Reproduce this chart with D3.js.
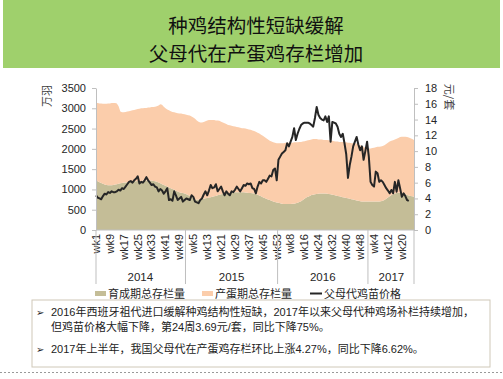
<!DOCTYPE html>
<html><head><meta charset="utf-8">
<script src="https://cdn.jsdelivr.net/npm/d3@7"></script>
<style>body{margin:0;background:#fff} svg{display:block}</style>
</head><body><svg id="c" width="503" height="379"></svg>
<script>
const years = ["2014","2015","2016","2017"];
const weeksPerYear = [52,53,52,27];
const rearing = [
1220,1200,1180,1160,1140,1120,1110,1100,1100,1100,1110,
1120,1130,1140,1150,1160,1170,1170,1180,1180,1190,
1190,1200,1200,1210,1210,1210,1220,1220,1220,1220,
1220,1220,1210,1200,1190,1170,1150,1130,1110,1090,
1070,1050,1030,1010,990,970,950,930,920,910,
900,880,860,840,810,770,750,745,745,750,
760,770,780,790,800,810,820,830,840,855,
870,880,890,900,905,910,915,920,925,930,
930,930,930,930,930,925,920,915,910,905,
900,890,870,850,830,810,790,770,750,740,
720,700,690,680,670,660,650,640,640,640,
640,640,645,650,660,670,690,710,740,770,
800,820,840,860,870,880,890,895,900,900,
900,900,895,890,880,870,860,850,840,830,
820,810,800,790,780,770,760,750,740,730,
720,710,700,700,700,700,700,700,700,700,
700,700,700,710,720,740,770,800,830,860,
880,900,910,920,920,910,900,880,860,850,
840,830,820];
const laying = [
1910,1930,1940,1960,1970,1990,2000,2020,2020,2030,2020,
2010,1990,1910,1770,1740,1730,1740,1740,1750,1750,
1760,1760,1770,1770,1780,1790,1780,1790,1790,1800,
1800,1810,1820,1840,1860,1900,1950,1960,1930,1910,
1900,1900,1900,1900,1910,1920,1930,1940,1950,1950,
1950,1960,1970,1980,1990,2000,1990,1955,1925,1900,
1890,1890,1900,1910,1910,1900,1890,1880,1860,1845,
1820,1790,1760,1730,1705,1680,1665,1650,1635,1620,
1610,1600,1590,1580,1580,1575,1570,1565,1560,1545,
1540,1530,1530,1530,1520,1510,1500,1490,1480,1460,
1460,1460,1460,1460,1470,1480,1490,1500,1510,1510,
1510,1510,1505,1510,1500,1490,1480,1460,1440,1420,
1400,1390,1380,1370,1370,1360,1350,1335,1330,1330,
1320,1320,1325,1320,1320,1330,1330,1330,1340,1340,
1350,1360,1360,1370,1370,1380,1380,1390,1400,1400,
1390,1380,1370,1350,1330,1320,1310,1310,1320,1330,
1340,1350,1350,1350,1350,1350,1350,1350,1350,1340,
1330,1330,1340,1350,1370,1390,1400,1420,1430,1430,
1420,1410,1400];
const price = [
4.4,4.1,4.0,3.9,4.3,4.6,4.5,4.8,4.7,4.9,4.8,
4.8,4.9,5.1,5.0,5.3,5.2,5.5,5.8,6.1,6.2,
6.0,6.3,6.5,6.8,5.9,6.1,6.0,6.3,6.7,6.3,
6.0,5.7,5.8,5.5,5.4,4.9,5.2,5.0,4.6,4.9,
5.3,3.8,3.9,3.7,4.9,4.4,3.8,4.0,4.2,3.6,
3.8,4.0,3.9,3.8,4.4,4.2,3.6,3.5,3.4,3.8,
4.0,4.5,4.9,4.4,5.0,5.7,5.3,5.4,5.8,4.9,
5.2,5.5,4.9,4.4,4.9,4.6,4.4,4.9,4.8,5.1,
5.5,5.2,4.9,5.3,5.7,5.6,5.9,5.8,5.9,5.3,
5.2,4.65,5.5,6.1,5.9,6.3,6.3,6.1,6.5,6.9,
6.8,7.6,7.8,6.3,8.9,9.3,9.7,9.9,10.1,11.0,
10.6,11.2,11.8,12.9,11.4,12.2,12.8,13.3,13.5,13.6,
13.6,13.6,13.5,13.3,13.1,14.2,15.6,14.6,14.2,14.0,
13.9,14.4,13.7,14.4,11.2,13.7,13.6,13.5,13.1,12.2,
11.8,12.2,11.0,9.6,6.6,8.2,9.3,10.6,11.2,11.8,
10.8,10.1,10.6,8.9,10.0,11.2,9.3,6.1,5.7,5.5,
7.4,7.2,6.1,6.3,6.1,5.7,5.3,5.0,4.65,5.07,
4.65,6.1,4.86,6.3,5.3,4.2,4.65,4.3,3.8,3.69];
const leftTicks = [0,500,1000,1500,2000,2500,3000,3500];
const rightTicks = [0,2,4,6,8,10,12,14,16,18];
const titleLines = ["种鸡结构性短缺缓解","父母代在产蛋鸡存栏增加"];
const seriesNames = ["育成期总存栏量","产蛋期总存栏量","父母代鸡苗价格"];
const unitLeft = "万羽", unitRight = "元/套";
const notes = [
  {bullet:true, text:"2016年西班牙祖代进口缓解种鸡结构性短缺，2017年以来父母代种鸡场补栏持续增加，"},
  {bullet:false, text:"但鸡苗价格大幅下降，第24周3.69元/套，同比下降75%。"},
  {bullet:true, text:"2017年上半年，我国父母代在产蛋鸡存栏环比上涨4.27%，同比下降6.62%。"}
];

const colors = {rearing:"#c4bd97", laying:"#fbcdab", line:"#262626", axis:"#bfbfbf", text:"#262626"};
const fontNum = "'Liberation Sans', 'Noto Sans CJK SC', sans-serif";
const fontCJK = "'Noto Sans CJK SC', sans-serif";

const cats = [];
years.forEach((y,k)=>{ for(let w=1; w<=weeksPerYear[k]; w++) cats.push({year:y, wk:"wk"+w}); });
const rows = cats.map((c,i)=>({i, rearing: rearing[i], laying: laying[i]}));

const svg = d3.select("#c");
const L=96, R=414, T=88, B=230;
const x = d3.scalePoint().domain(d3.range(cats.length)).range([L,R]);
const yL = d3.scaleLinear().domain([0,3500]).range([B,T]);
const yR = d3.scaleLinear().domain([0,18]).range([B,T]);

// Title banner
svg.append("rect").attr("x",3).attr("y",0).attr("width",497).attr("height",68).attr("fill","#9fd06c");
svg.selectAll("text.title").data(titleLines).join("text").attr("class","title")
  .attr("x",256).attr("y",(d,i)=>32.5+i*28.5).attr("text-anchor","middle")
  .attr("font-family",fontCJK).attr("font-size",19.5).attr("fill","#111").text(d=>d);

// Areas (stacked)
const stack = d3.stack().keys(["rearing","laying"])(rows);
const area = d3.area().x(d=>x(d.data.i)).y0(d=>yL(d[0])).y1(d=>yL(d[1]));
svg.append("g").selectAll("path").data(stack).join("path")
  .attr("d",area).attr("fill",d=>colors[d.key]);

// Price line
const line = d3.line().x((d,i)=>x(i)).y(d=>yR(d));
svg.append("path").datum(price).attr("d",line).attr("fill","none")
  .attr("stroke",colors.line).attr("stroke-width",2).attr("stroke-linejoin","round");

// Axes
function styleAxis(g){
  g.select(".domain").attr("stroke",colors.axis);
  g.selectAll(".tick line").attr("stroke",colors.axis);
  g.selectAll(".tick text").attr("font-family",fontNum).attr("font-size",11).attr("fill",colors.text);
}
svg.append("g").attr("transform",`translate(${L},0)`)
  .call(d3.axisLeft(yL).tickValues(leftTicks).tickFormat(d3.format("d")).tickSize(4).tickPadding(6).tickSizeOuter(0)).call(styleAxis);
svg.append("g").attr("transform",`translate(${R},0)`)
  .call(d3.axisRight(yR).tickValues(rightTicks).tickFormat(d3.format("d")).tickSize(4).tickPadding(7).tickSizeOuter(0)).call(styleAxis);

// Bottom axis line
svg.append("line").attr("x1",L).attr("x2",R).attr("y1",B).attr("y2",B).attr("stroke",colors.axis);
// week labels
const shown = cats.map((c,i)=>({c,i})).filter(d=>d.i%8===0);
svg.append("g").selectAll("text").data(shown).join("text")
  .attr("transform",d=>`translate(${x(d.i)},234) rotate(-90)`)
  .attr("text-anchor","end").attr("dy","0.35em")
  .attr("font-family",fontNum).attr("font-size",11).attr("fill",colors.text).text(d=>d.c.wk);
// year separators and labels
const bounds=[0]; weeksPerYear.forEach(n=>bounds.push(bounds[bounds.length-1]+n));
const N = cats.length;
const bx = b => b===0 ? L : (b===N ? R : (x(b-1)+x(b))/2);
svg.append("g").selectAll("line").data(bounds).join("line")
  .attr("x1",bx).attr("x2",bx).attr("y1",B).attr("y2",284).attr("stroke",colors.axis);
svg.append("g").selectAll("text").data(years).join("text")
  .attr("x",(d,k)=>(x(bounds[k])+x(bounds[k+1]-1))/2).attr("y",281).attr("text-anchor","middle")
  .attr("font-family",fontNum).attr("font-size",11.5).attr("fill",colors.text).text(d=>d);

// Unit labels
svg.append("text").attr("transform","translate(47,96) rotate(-90)").attr("text-anchor","middle").attr("dy","0.35em")
  .attr("font-family",fontCJK).attr("font-size",11).attr("fill","#404040").text(unitLeft);
svg.append("text").attr("transform","translate(449,97) rotate(90)").attr("text-anchor","middle").attr("dy","0.35em")
  .attr("font-family",fontCJK).attr("font-size",11).attr("fill","#404040").text(unitRight);

// Legend
const lg = svg.append("g");
const legendItems = [
  {name:seriesNames[0], type:"rect", color:colors.rearing, sx:95, tx:108},
  {name:seriesNames[1], type:"rect", color:colors.laying, sx:202, tx:215},
  {name:seriesNames[2], type:"line", color:colors.line, sx:310, tx:324}
];
legendItems.forEach(it=>{
  if(it.type==="rect") lg.append("rect").attr("x",it.sx).attr("y",291).attr("width",11).attr("height",5).attr("fill",it.color);
  else lg.append("line").attr("x1",it.sx).attr("x2",it.sx+12).attr("y1",293.5).attr("y2",293.5).attr("stroke",it.color).attr("stroke-width",2);
  lg.append("text").attr("x",it.tx).attr("y",297.5).attr("font-family",fontCJK).attr("font-size",11).attr("fill",colors.text).text(it.name);
});

// Notes box
svg.append("rect").attr("x",32).attr("y",300).attr("width",458).attr("height",67).attr("fill","none").attr("stroke","#cfc8b8");
const noteY = [316,331,352.5];
notes.forEach((n,k)=>{
  if(n.bullet) svg.append("text").attr("x",36).attr("y",noteY[k]).attr("font-family","'DejaVu Sans', sans-serif").attr("font-size",10).attr("fill","#222").text("➢");
  svg.append("text").attr("x",51).attr("y",noteY[k]).attr("font-family",fontNum).attr("font-size",11).attr("fill","#222").text(n.text);
});
// dotted separator
svg.append("line").attr("x1",0).attr("x2",503).attr("y1",372.5).attr("y2",372.5).attr("stroke","#999").attr("stroke-dasharray","2,2");
</script></body></html>
